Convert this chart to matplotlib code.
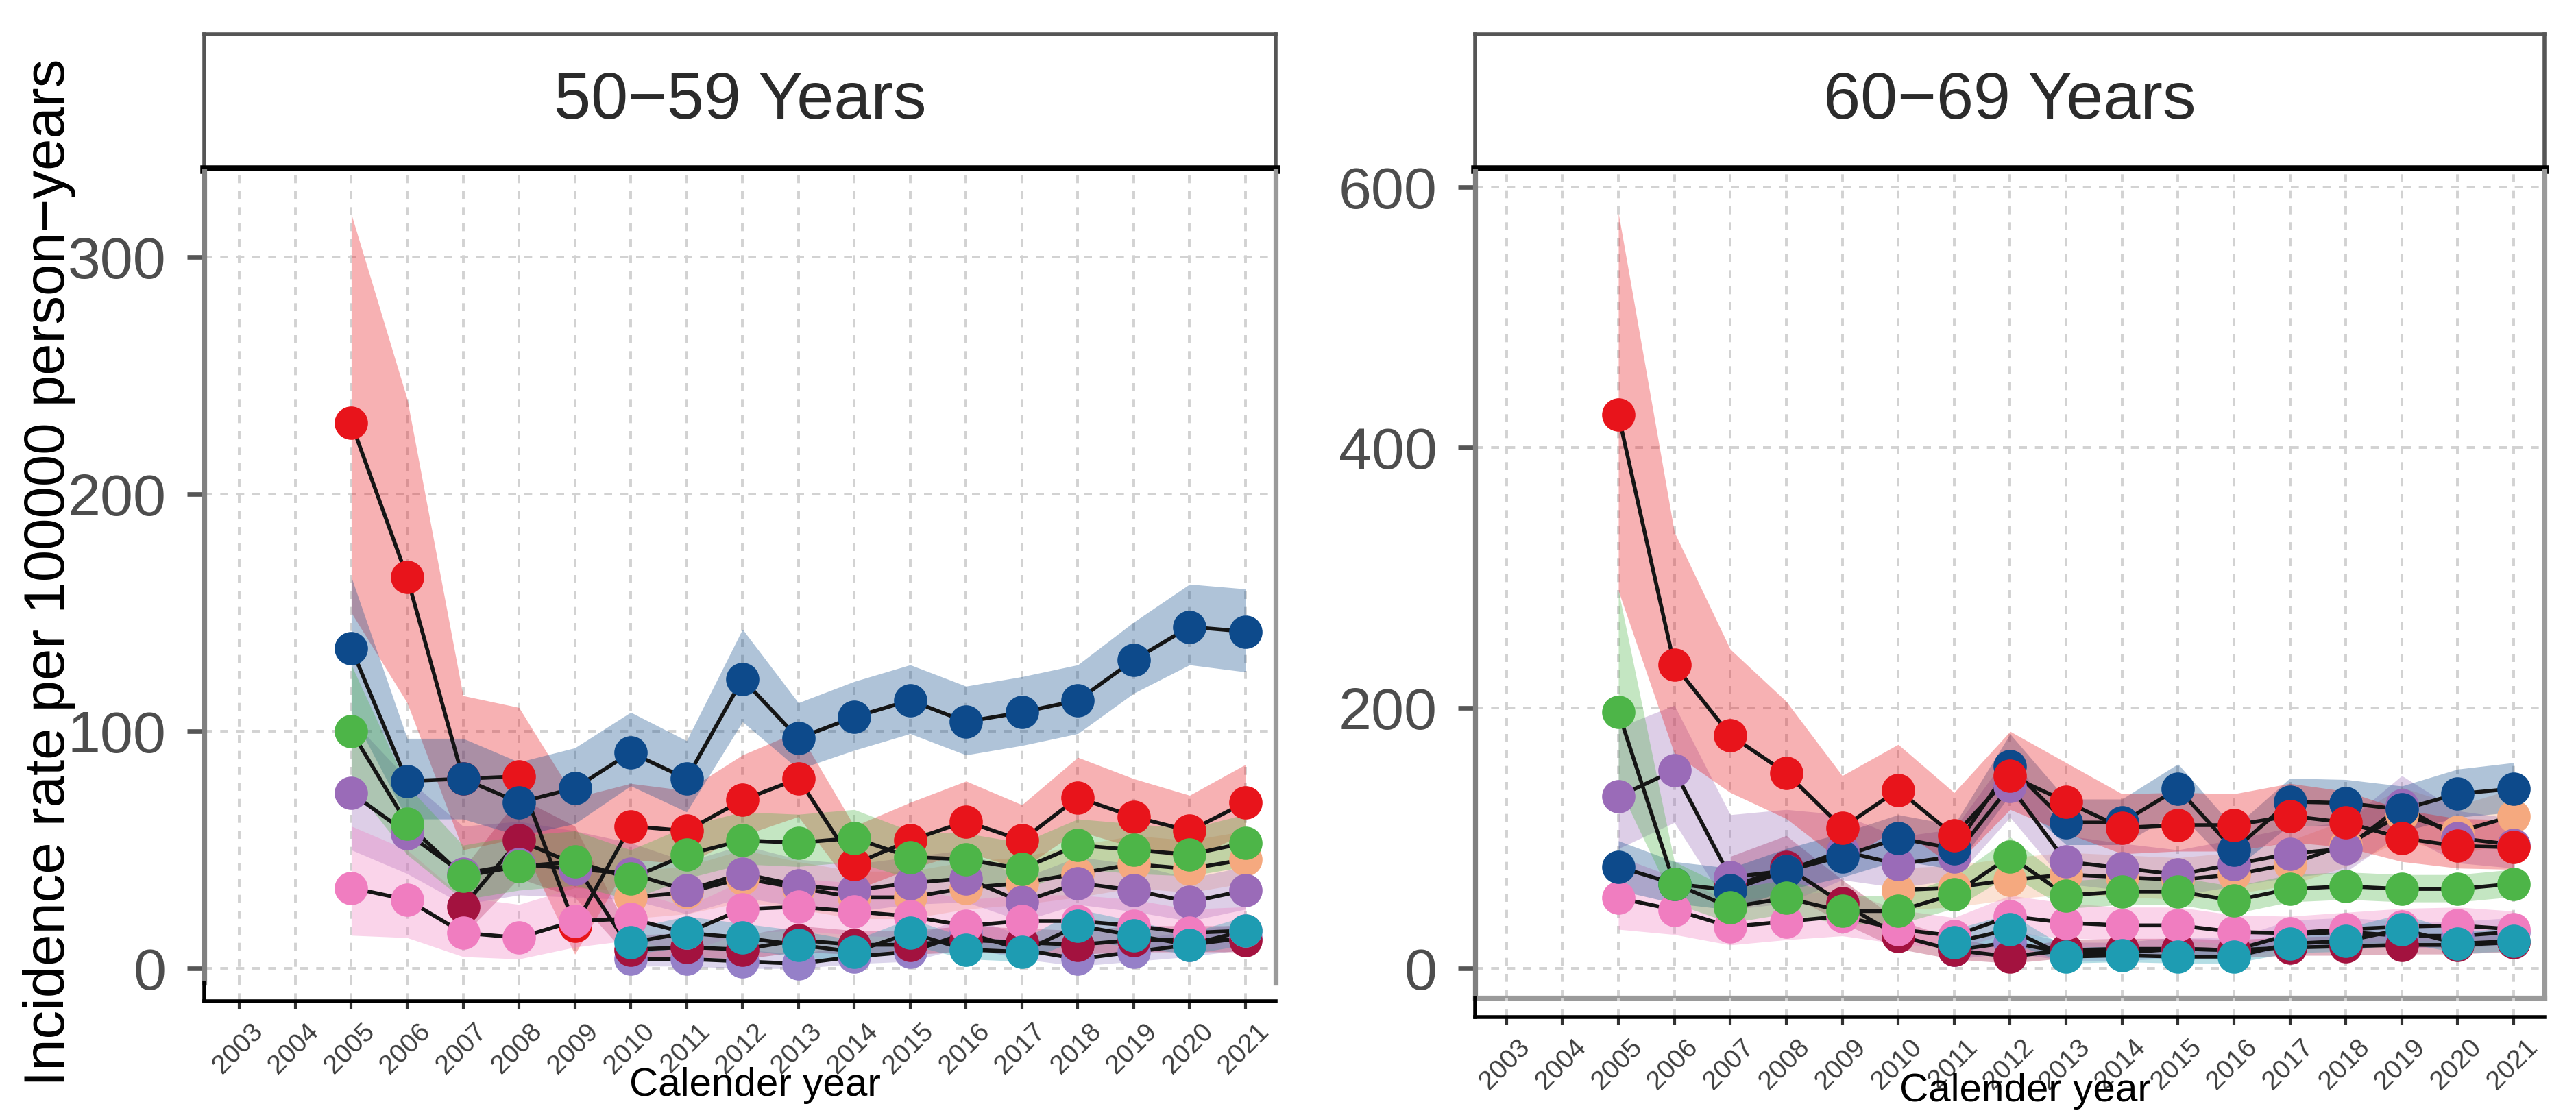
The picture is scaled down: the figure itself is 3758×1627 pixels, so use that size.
import numpy as np
import matplotlib
matplotlib.use('Agg')
import matplotlib.pyplot as plt
from matplotlib import font_manager
from matplotlib.transforms import ScaledTranslation

nan = np.nan

years = list(range(2005, 2022))
tick_years = list(range(2003, 2022))
panel_titles = ['50−59 Years', '60−69 Years']
left_yticks = [0, 100, 200, 300]
right_yticks = [0, 200, 400, 600]
x_label = 'Calender year'
y_label = 'Incidence rate per 100000 person−years'

# 50-59 years panel
l_blue = [135, 79, 80, 70, 76, 91, 80, 122, 97, 106, 113, 104, 108, 113, 130, 144, 142]
l_blue_lo = [108, 63, 63, 56, 61, 77, 66, 104, 84, 92, 99, 90, 94, 99, 116, 128, 125]
l_blue_hi = [165, 97, 97, 87, 93, 108, 96, 143, 112, 121, 128, 119, 123, 128, 146, 162, 160]
l_red = [230, 165, 80, 81, 18, 60, 58, 71, 80, 44, 54, 62, 54, 72, 64, 58, 70]
l_red_lo = [150, 112, 50, 55, 6, 46, 44, 56, 64, 33, 42, 49, 42, 58, 51, 46, 57]
l_red_hi = [318, 240, 115, 110, 72, 78, 75, 90, 100, 60, 70, 79, 69, 89, 80, 73, 86]
l_green = [100, 61, 39, 43, 45, 38, 48, 54, 53, 55, 47, 46, 42, 52, 50, 48, 53]
l_green_lo = [78, 48, 29, 33, 35, 29, 38, 44, 43, 45, 38, 37, 33, 42, 40, 39, 43]
l_green_hi = [128, 77, 52, 56, 58, 50, 60, 66, 65, 67, 58, 57, 53, 63, 61, 59, 65]
l_purple = [74, 57, 40, 44, 42, 40, 33, 40, 35, 33, 36, 38, 28, 36, 33, 28, 33]
l_purple_lo = [50, 40, 27, 31, 30, 29, 23, 30, 26, 24, 27, 28, 20, 27, 24, 20, 25]
l_purple_hi = [105, 80, 60, 62, 58, 53, 45, 52, 46, 44, 47, 50, 38, 47, 44, 38, 43]
l_pink = [34, 29, 15, 13, 20, 21, 15, 25, 26, 24, 22, 18, 20, 20, 18, 15, 16]
l_pink_lo = [14, 13, 5, 4, 9, 12, 7, 15, 16, 14, 13, 10, 11, 11, 10, 8, 9]
l_pink_hi = [60, 50, 30, 27, 34, 33, 26, 37, 38, 36, 34, 29, 31, 31, 29, 25, 26]
l_teal = [nan] * 5 + [11, 15, 13, 10, 7, 15, 8, 7, 18, 14, 10, 16]
l_teal_lo = [nan] * 5 + [6, 9, 8, 5, 3, 10, 4, 3, 12, 9, 6, 10]
l_teal_hi = [nan] * 5 + [17, 22, 19, 16, 12, 21, 13, 12, 25, 20, 15, 22]
l_maroon = [nan, nan, 26, 54, 44, 8, 9, 8, 12, 10, 10, 12, 11, 10, 12, 12, 12]
l_maroon_lo = [nan, nan, 14, 38, 30, 4, 5, 4, 7, 6, 6, 7, 6, 6, 7, 7, 7]
l_maroon_hi = [nan, nan, 42, 72, 60, 14, 15, 14, 18, 16, 16, 18, 17, 16, 18, 18, 18]
l_lavender = [nan] * 5 + [4, 4, 3, 2, 5, 7, 15, 8, 4, 7, 10, 13]
l_lavender_lo = [nan] * 5 + [1, 1, 0, 0, 2, 3, 9, 4, 1, 3, 5, 8]
l_lavender_hi = [nan] * 5 + [9, 9, 8, 6, 10, 13, 22, 14, 9, 12, 16, 19]
l_peach = [nan] * 5 + [30, 32, 38, 34, 30, 30, 34, 36, 40, 44, 42, 46]
l_peach_lo = [nan] * 5 + [21, 23, 28, 25, 21, 21, 25, 27, 30, 34, 32, 36]
l_peach_hi = [nan] * 5 + [41, 43, 50, 45, 41, 41, 45, 47, 52, 56, 54, 58]

# 60-69 years panel
r_blue = [78, 65, 60, 75, 86, 100, 92, 155, 112, 112, 138, 91, 128, 127, 122, 134, 138]
r_blue_lo = [60, 50, 45, 60, 70, 83, 76, 133, 95, 95, 120, 76, 110, 109, 105, 116, 120]
r_blue_hi = [98, 82, 77, 92, 104, 118, 110, 180, 130, 130, 157, 108, 146, 145, 140, 153, 158]
r_red = [425, 233, 179, 150, 108, 137, 102, 148, 128, 108, 110, 110, 117, 112, 100, 94, 93]
r_red_lo = [290, 165, 135, 115, 82, 108, 78, 122, 104, 88, 90, 90, 97, 93, 82, 77, 76]
r_red_hi = [580, 335, 245, 205, 148, 172, 135, 182, 158, 134, 135, 134, 142, 136, 122, 115, 114]
r_green = [197, 65, 47, 54, 44, 44, 57, 86, 56, 59, 59, 52, 61, 63, 61, 61, 65]
r_green_lo = [140, 50, 35, 42, 34, 34, 46, 72, 46, 49, 49, 42, 51, 53, 51, 51, 55]
r_green_hi = [290, 82, 61, 68, 56, 56, 70, 101, 67, 70, 70, 63, 72, 74, 72, 72, 76]
r_purple = [132, 152, 70, 75, 90, 80, 86, 140, 82, 77, 72, 80, 88, 92, 125, 100, 95]
r_purple_lo = [92, 112, 45, 50, 68, 62, 68, 116, 65, 60, 56, 63, 70, 74, 104, 81, 77]
r_purple_hi = [185, 202, 118, 122, 118, 101, 107, 166, 102, 96, 91, 99, 108, 112, 148, 121, 115]
r_pink = [54, 45, 32, 36, 40, 30, 25, 40, 35, 33, 33, 28, 27, 30, 32, 33, 30]
r_pink_lo = [30, 26, 18, 22, 25, 19, 15, 27, 23, 22, 22, 18, 17, 20, 21, 22, 20]
r_pink_hi = [86, 70, 52, 56, 60, 45, 39, 56, 50, 47, 47, 41, 40, 43, 46, 47, 44]
r_teal = [nan] * 6 + [20, 30, 9, 10, 9, 9, 19, 21, 30, 19, 21]
r_teal_lo = [nan] * 6 + [12, 20, 4, 5, 4, 4, 12, 13, 20, 12, 13]
r_teal_hi = [nan] * 6 + [30, 42, 16, 17, 16, 16, 28, 31, 42, 28, 31]
r_maroon = [nan, nan, 62, 78, 50, 25, 14, 9, 14, 15, 15, 14, 16, 17, 18, 18, 20]
r_maroon_lo = [nan, nan, 42, 58, 35, 15, 7, 4, 8, 9, 9, 8, 10, 10, 11, 11, 13]
r_maroon_hi = [nan, nan, 86, 102, 68, 37, 23, 16, 22, 23, 23, 22, 24, 25, 26, 26, 29]
r_lavender = [nan] * 6 + [14, 20, 12, 12, 15, 14, 26, 28, 25, 25, 28]
r_lavender_lo = [nan] * 6 + [7, 12, 6, 6, 8, 7, 17, 18, 16, 16, 18]
r_lavender_hi = [nan] * 6 + [23, 30, 20, 20, 24, 23, 37, 39, 36, 36, 39]
r_peach = [nan] * 5 + [60, 62, 68, 72, 70, 68, 72, 80, 95, 118, 105, 117]
r_peach_lo = [nan] * 5 + [45, 47, 53, 57, 55, 53, 57, 64, 78, 99, 87, 98]
r_peach_hi = [nan] * 5 + [77, 79, 85, 89, 87, 85, 89, 98, 114, 139, 125, 138]

colors = {
    'peach': '#F5A97F', 'lavender': '#9580C8', 'maroon': '#A3123F',
    'purple': '#9A6BB8', 'pink': '#F07DC0', 'blue': '#0D4A8B',
    'red': '#E8141B', 'green': '#4DB548', 'teal': '#1E9CB2',
}

# drawing order differs a little between panels (later = on top)
left_series = [
    ('peach', l_peach, l_peach_lo, l_peach_hi),
    ('lavender', l_lavender, l_lavender_lo, l_lavender_hi),
    ('maroon', l_maroon, l_maroon_lo, l_maroon_hi),
    ('purple', l_purple, l_purple_lo, l_purple_hi),
    ('red', l_red, l_red_lo, l_red_hi),
    ('blue', l_blue, l_blue_lo, l_blue_hi),
    ('pink', l_pink, l_pink_lo, l_pink_hi),
    ('green', l_green, l_green_lo, l_green_hi),
    ('teal', l_teal, l_teal_lo, l_teal_hi),
]
right_series = [
    ('peach', r_peach, r_peach_lo, r_peach_hi),
    ('lavender', r_lavender, r_lavender_lo, r_lavender_hi),
    ('maroon', r_maroon, r_maroon_lo, r_maroon_hi),
    ('purple', r_purple, r_purple_lo, r_purple_hi),
    ('pink', r_pink, r_pink_lo, r_pink_hi),
    ('blue', r_blue, r_blue_lo, r_blue_hi),
    ('red', r_red, r_red_lo, r_red_hi),
    ('green', r_green, r_green_lo, r_green_hi),
    ('teal', r_teal, r_teal_lo, r_teal_hi),
]

installed = {f.name for f in font_manager.fontManager.ttflist}
narrow = 'Liberation Sans Narrow' in installed
num_font = 'Liberation Sans Narrow' if narrow else 'Liberation Sans'
ytick_size = 36 if narrow else 31
strip_size = 40 if narrow else 35
plt.rcParams['font.family'] = ['Liberation Sans', 'DejaVu Sans']

W, H = 3758, 1627
DPI = 200


def box(x0, y0, x1, y1):
    return [x0 / W, 1 - y1 / H, (x1 - x0) / W, (y1 - y0) / H]


fig = plt.figure(figsize=(W / DPI, H / DPI), dpi=DPI)
grid_kw = dict(color='#D2D2D2', lw=1.4, ls=(0, (3, 3)))

panels = [
    dict(px=(298, 1861), py=(250, 1434), axis_y=1461, xlim=(2002.37, 2021.54),
         ylim=(-6, 336), yticks=left_yticks, series=left_series, bottom=False,
         title=panel_titles[0], xlab_y=1584),
    dict(px=(2152, 3712), py=(250, 1456), axis_y=1484, xlim=(2002.44, 2021.55),
         ylim=(-22.6, 612), yticks=right_yticks, series=right_series, bottom=True,
         title=panel_titles[1], xlab_y=1592),
]

for p in panels:
    x0, x1 = p['px']
    y0, y1 = p['py']

    # strip header
    st = fig.add_axes(box(x0, 50, x1, 247))
    st.set_xticks([])
    st.set_yticks([])
    for side in ['top', 'left', 'right']:
        st.spines[side].set_color('#555555')
        st.spines[side].set_linewidth(2.0)
    st.spines['bottom'].set_color('black')
    st.spines['bottom'].set_linewidth(4.5)
    st.text(0.5, 0.5, p['title'], transform=st.transAxes, ha='center', va='center',
            fontsize=strip_size, color='#2B2B2B', family=[num_font, 'DejaVu Sans'])

    # main panel
    ax = fig.add_axes(box(x0, y0, x1, y1))
    ax.set_xlim(*p['xlim'])
    ax.set_ylim(*p['ylim'])
    ax.set_xticks(tick_years)
    ax.set_yticks(p['yticks'])
    ax.grid(True, **grid_kw)
    ax.set_axisbelow(True)
    ax.tick_params(axis='x', bottom=False, labelbottom=False)
    ax.tick_params(axis='y', length=9, width=2.4, color='#555555', pad=11,
                   labelsize=ytick_size, labelcolor='#4D4D4D')
    for lab in ax.get_yticklabels():
        lab.set_family([num_font, 'DejaVu Sans'])
    ax.spines['top'].set_visible(False)
    ax.spines['left'].set_color('#808080')
    ax.spines['left'].set_linewidth(2.6)
    ax.spines['right'].set_color('#9A9A9A')
    ax.spines['right'].set_linewidth(2.6)
    ax.spines['bottom'].set_visible(p['bottom'])
    ax.spines['bottom'].set_color('#9A9A9A')
    ax.spines['bottom'].set_linewidth(2.6)

    for name, est, lo, hi in p['series']:
        ax.fill_between(years, lo, hi, color=colors[name], alpha=0.33, lw=0, zorder=2)
    for name, est, lo, hi in p['series']:
        ax.plot(years, est, color='#151515', lw=2.0, zorder=3)
    for name, est, lo, hi in p['series']:
        ax.plot(years, est, 'o', ms=17.5, color=colors[name], mec='none', zorder=4)

    # separate x axis below the panel
    xa = fig.add_axes(box(x0, y1, x1, p['axis_y']))
    xa.set_xlim(*p['xlim'])
    xa.set_ylim(0, 1)
    xa.set_yticks([])
    xa.set_xticks(tick_years)
    xa.tick_params(axis='x', length=4.3, width=1.5, color='#333333', labelbottom=False)
    label_tf = xa.get_xaxis_transform() + ScaledTranslation(16 / DPI, -26 / DPI,
                                                            fig.dpi_scale_trans)
    for yr in tick_years:
        xa.text(yr, 0, str(yr), transform=label_tf, rotation=45, ha='right', va='top',
                rotation_mode='anchor', fontsize=14, color='#3F3F3F', clip_on=False)
        xa.axvline(yr, **grid_kw)
    for side in ['top', 'right']:
        xa.spines[side].set_visible(False)
    xa.spines['bottom'].set_linewidth(2.0)
    xa.spines['left'].set_linewidth(2.0)
    xa.patch.set_alpha(0)

    fig.text((x0 + x1) / 2 / W + 22 / W, 1 - p['xlab_y'] / H, x_label,
             ha='center', va='center', fontsize=21, color='black')

fig.text(72 / W, 1 - 835 / H, y_label, rotation=90, ha='center', va='center',
         fontsize=30, color='black')

fig.savefig('out.png', dpi=DPI)
